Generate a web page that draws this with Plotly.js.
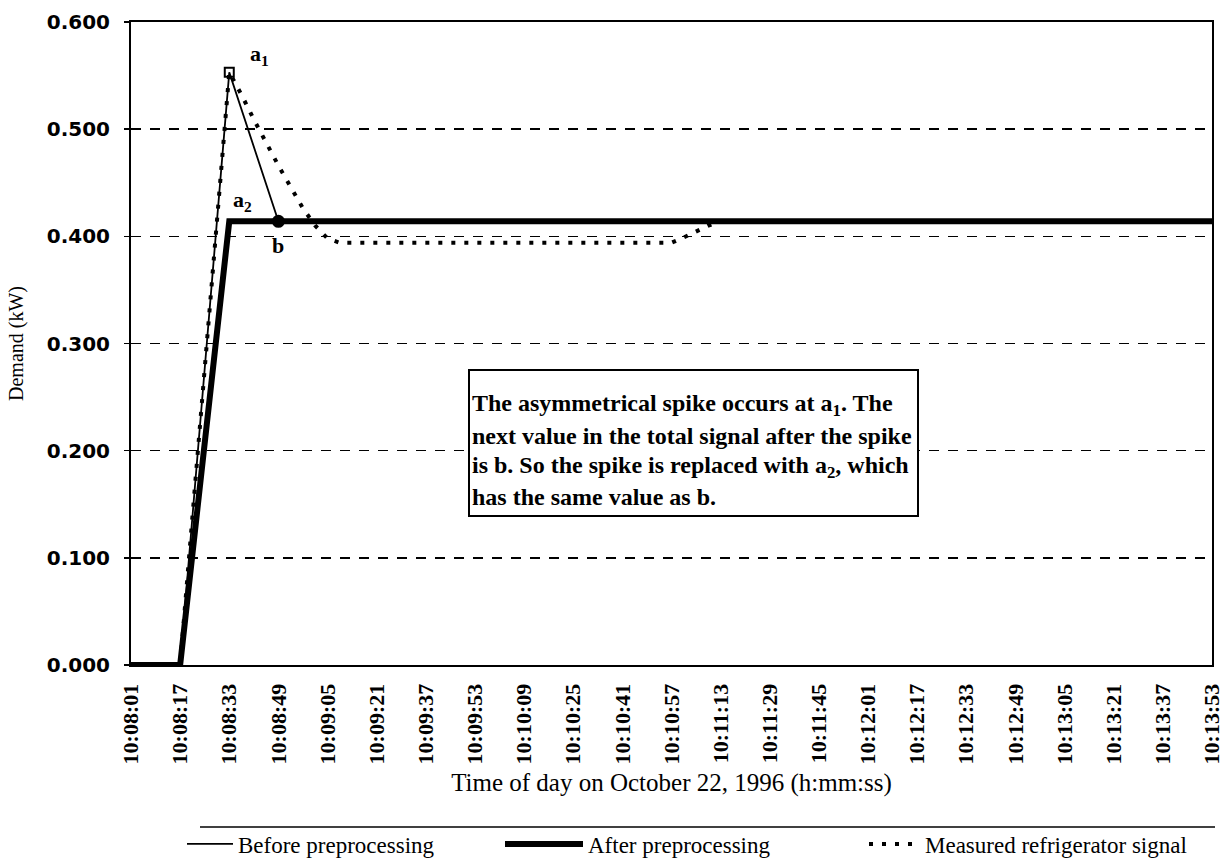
<!DOCTYPE html>
<html>
<head>
<meta charset="utf-8">
<script src="https://cdn.plot.ly/plotly-3.0.1.min.js"></script>
<style>html,body{margin:0;padding:0;background:#fff;}#chart{width:1226px;height:860px;}</style>
</head>
<body>
<div id="chart"></div>
<script>
// ---- data ----
const day = '1996-10-22 ';
const tickTimes = ['10:08:01','10:08:17','10:08:33','10:08:49','10:09:05','10:09:21','10:09:37','10:09:53',
  '10:10:09','10:10:25','10:10:41','10:10:57','10:11:13','10:11:29','10:11:45','10:12:01','10:12:17',
  '10:12:33','10:12:49','10:13:05','10:13:21','10:13:37','10:13:53'];
const beforeVals = [0.000,0.000,0.553,0.414,0.414,0.414,0.414,0.414,0.414,0.414,0.414,0.414,
  0.414,0.414,0.414,0.414,0.414,0.414,0.414,0.414,0.414,0.414,0.414];
const afterVals = [0.000,0.000,0.414,0.414,0.414,0.414,0.414,0.414,0.414,0.414,0.414,0.414,
  0.414,0.414,0.414,0.414,0.414,0.414,0.414,0.414,0.414,0.414,0.414];
const measuredTimes = ['10:08:01','10:08:17','10:08:33','10:08:37','10:08:41','10:08:45','10:08:49',
  '10:08:53','10:08:57','10:09:01','10:09:05','10:09:09','10:09:37','10:10:09','10:10:41','10:10:57',
  '10:11:01','10:11:05','10:11:09','10:11:13','10:11:45','10:12:33','10:13:21','10:13:53'];
const measuredVals = [0.000,0.000,0.553,0.532,0.509,0.487,0.466,0.446,0.426,0.410,0.398,0.394,
  0.394,0.394,0.394,0.394,0.399,0.405,0.410,0.414,0.414,0.414,0.414,0.414];
const seriesNames = ['Before preprocessing','After preprocessing','Measured refrigerator signal'];
const noteLines = ['The asymmetrical spike occurs at a<sub>1</sub>. The',
  'next value in the total signal after the spike',
  'is b. So the spike is replaced with a<sub>2</sub>, which',
  'has the same value as b.'];
const spikeIdx = 2, bIdx = 3;

// ---- layout helpers ----
const W = 1226, H = 860;
const L = 131, R = 1212, T = 22, B = 665;
const px2x = p => (p - L) / (R - L);
const px2y = p => (B - p) / (B - T);
const tx = t => day + t;
const serif = 'Liberation Serif, Times New Roman, serif';

const traces = [
  {x: measuredTimes.map(tx), y: measuredVals, name: seriesNames[2], mode: 'lines', legend: 'legend3',
   line: {color: '#000', width: 4, dash: '4px,9px'}},
  {x: tickTimes.map(tx), y: beforeVals, name: seriesNames[0], mode: 'lines', legend: 'legend',
   line: {color: '#000', width: 1.8}},
  {x: tickTimes.map(tx), y: afterVals, name: seriesNames[1], mode: 'lines', legend: 'legend2',
   line: {color: '#000', width: 6}},
  {x: [tx(tickTimes[spikeIdx])], y: [beforeVals[spikeIdx]], mode: 'markers', showlegend: false,
   marker: {symbol: 'square-open', size: 9, color: '#000', line: {width: 2, color: '#000'}}},
  {x: [tx(tickTimes[bIdx])], y: [afterVals[bIdx]], mode: 'markers', showlegend: false,
   marker: {symbol: 'circle', size: 13, color: '#000'}}
];

const annotations = [
  {x: tx(tickTimes[spikeIdx]), y: beforeVals[spikeIdx], xref: 'x', yref: 'y', text: 'a<sub>1</sub>',
   showarrow: false, xshift: 30, yshift: 17, font: {family: serif, size: 22, weight: 'bold', color: '#000'}},
  {x: tx(tickTimes[spikeIdx]), y: afterVals[spikeIdx], xref: 'x', yref: 'y', text: 'a<sub>2</sub>',
   showarrow: false, xshift: 13, yshift: 20, font: {family: serif, size: 22, weight: 'bold', color: '#000'}},
  {x: tx(tickTimes[bIdx]), y: afterVals[bIdx], xref: 'x', yref: 'y', text: 'b',
   showarrow: false, xshift: 0, yshift: -24, font: {family: serif, size: 22, weight: 'bold', color: '#000'}}
];
const lineY = [405, 436, 467, 497];
noteLines.forEach((t, i) => annotations.push({
  xref: 'paper', yref: 'paper', x: px2x(470), y: px2y(lineY[i]), xanchor: 'left', yanchor: 'middle',
  text: t, showarrow: false, align: 'left', font: {family: serif, size: 24, weight: 'bold', color: '#000'}
}));

const legendBase = {orientation: 'h', xref: 'container', yref: 'container', yanchor: 'middle',
  y: 1 - 844 / H, xanchor: 'left', bgcolor: 'rgba(0,0,0,0)', borderwidth: 0,
  font: {family: serif, size: 23, color: '#000'}};

const layout = {
  width: W, height: H,
  margin: {l: L, r: W - R, t: T, b: H - B},
  paper_bgcolor: '#fff', plot_bgcolor: '#fff',
  showlegend: true,
  xaxis: {
    type: 'date', automargin: false,
    range: [tx(tickTimes[0]), tx(tickTimes[tickTimes.length - 1])],
    tick0: tx(tickTimes[0]), dtick: 16000, tickformat: '%-H:%M:%S',
    tickangle: -90, ticks: '', ticklabelstandoff: 8,
    tickfont: {family: serif, size: 22, weight: 'bold', color: '#000'},
    showgrid: false, zeroline: false,
    showline: true, linecolor: '#000', linewidth: 2, mirror: true,
    title: {text: 'Time of day on October 22, 1996 (h:mm:ss)', standoff: 10,
      font: {family: serif, size: 25, color: '#000'}}
  },
  yaxis: {
    range: [0, 0.6], dtick: 0.1, tick0: 0, tickformat: '.3f', automargin: false,
    ticks: 'outside', ticklen: 5, tickcolor: '#000', tickwidth: 1.5, ticklabelstandoff: 10,
    tickfont: {family: 'DejaVu Sans, sans-serif', size: 20, weight: 'bold', color: '#000'},
    showgrid: true, gridcolor: '#000', gridwidth: 1.5, griddash: '10px,9px',
    zeroline: false, showline: true, linecolor: '#000', linewidth: 2, mirror: true,
    title: {text: 'Demand (kW)', standoff: 18, font: {family: serif, size: 20, color: '#000'}}
  },
  legend: Object.assign({}, legendBase, {x: 182 / W, itemwidth: 46}),
  legend2: Object.assign({}, legendBase, {x: 500 / W, itemwidth: 78}),
  legend3: Object.assign({}, legendBase, {x: 864 / W, itemwidth: 51}),
  shapes: [
    {type: 'rect', xref: 'paper', yref: 'paper', x0: px2x(469), x1: px2x(918), y0: px2y(516), y1: px2y(370),
     line: {color: '#000', width: 2}, fillcolor: '#fff', layer: 'above'},
    {type: 'line', xref: 'paper', yref: 'paper', x0: px2x(200), x1: px2x(1215), y0: px2y(827), y1: px2y(827),
     line: {color: '#000', width: 1.5}}
  ],
  annotations: annotations
};

Plotly.newPlot('chart', traces, layout, {displayModeBar: false, staticPlot: true});
</script>
</body>
</html>
